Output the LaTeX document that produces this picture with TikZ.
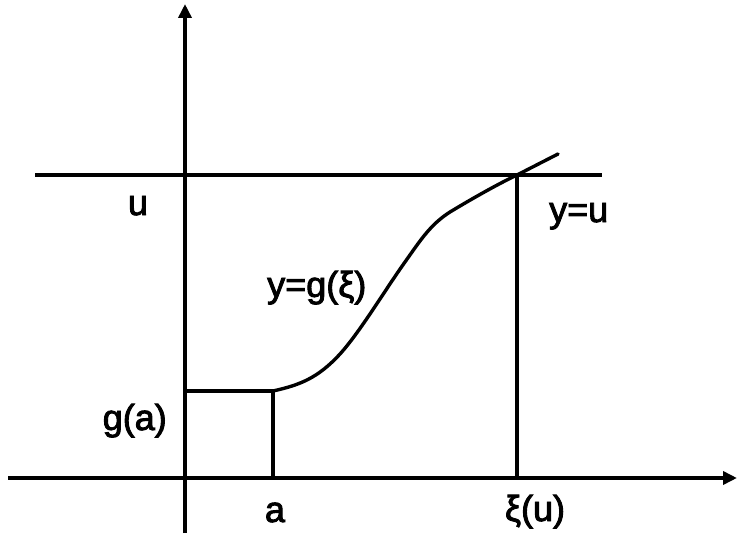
\documentclass[tikz,border=0pt]{standalone}
\usepackage{fontspec}
\setmainfont{Liberation Sans}
\newfontfamily\lblfont[FakeBold=2.5]{Liberation Sans}
\usetikzlibrary{arrows.meta}
\begin{document}
\begin{tikzpicture}[x=1pt,y=-1pt,
  axis/.style={line width=3.8pt,-{Triangle[width=13pt,length=14pt]}},
  guide/.style={line width=3.4pt},
  lbl/.style={font=\lblfont\fontsize{36}{42}\selectfont,inner sep=0pt,anchor=base}]
\useasboundingbox (0,0) rectangle (737,535);
\fill[white] (0,0) rectangle (737,535);
% coordinates
\coordinate (ybot) at (185,533);
\coordinate (ytop) at (185,4);
\coordinate (xleft) at (8,478);
\coordinate (xright) at (737,478);
\coordinate (uleft) at (35,175);
\coordinate (uright) at (602,175);
\coordinate (xiu) at (517,175);
\coordinate (xiubot) at (517,478);
\coordinate (ga) at (185,391);
\coordinate (acorner) at (273,391);
\coordinate (abot) at (273,478);
\coordinate (cend) at (558,154);
% axes
\draw[axis] (ybot) -- (ytop);
\draw[axis] (xleft) -- (xright);
% guides
\draw[guide] (uleft) -- (uright);
\draw[guide] (xiu) -- (xiubot);
\draw[guide] (ga) -- (acorner) -- (abot);
% curve
\draw[line width=3.4pt,line join=round,line cap=round] (acorner)
  .. controls (300,385) and (318,378) .. (340,354)
  .. controls (360,332) and (385,290) .. (405,262)
  .. controls (422,238) and (432,222) .. (455,209)
  .. controls (475,197) and (500,183) .. (xiu)
  -- (cend);
% labels
\node[lbl] (lu) at (138,215) {u};
\node[lbl,anchor=base west] (lyu) at (549,222) {y=u};
\node[lbl,anchor=base west] (lyg) at (267,297) {y=g(ξ)};
\node[lbl,anchor=base east] (lga) at (167,430) {g(a)};
\node[lbl] (la) at (275,522) {a};
\node[lbl] (lxi) at (535,521) {ξ(u)};
\end{tikzpicture}
\end{document}
